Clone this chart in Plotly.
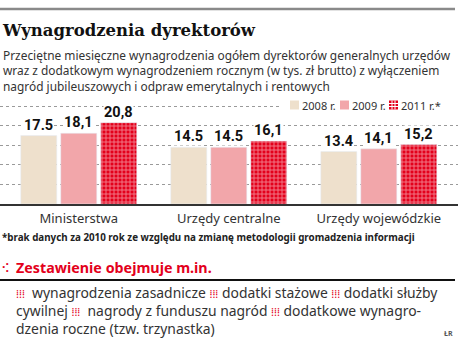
import plotly.graph_objects as go

categories = ["Ministerstwa", "Urzędy centralne", "Urzędy wojewódzkie"]
years = ["2008 r.", "2009 r.", "2011 r.*"]
values_2008 = [17.5, 14.5, 13.4]
values_2009 = [18.1, 14.5, 14.1]
values_2011 = [20.8, 16.1, 15.2]
labels_2008 = ["17.5", "14.5", "13.4"]
labels_2009 = ["18,1", "14.5", "14,1"]
labels_2011 = ["20,8", "16,1", "15,2"]

BEIGE = "#eee0cc"
PINK = "#f2a6aa"
RED = "#e3001b"
TEXT = "#333333"

W, H = 458, 340
T, B = 100, 136
PLOT_BOTTOM = H - B
PLOT_H = PLOT_BOTTOM - T


def py(ypx):
    return (PLOT_BOTTOM - ypx) / PLOT_H


def px(xpx):
    return xpx / W


fig = go.Figure()
fig.add_trace(go.Bar(x=categories, y=values_2008, name=years[0], marker_color=BEIGE, hoverinfo="skip"))
fig.add_trace(go.Bar(x=categories, y=values_2009, name=years[1], marker_color=PINK, hoverinfo="skip"))
fig.add_trace(go.Bar(x=categories, y=values_2011, name=years[2],
                     marker=dict(color=RED, pattern=dict(shape="+", fgcolor="white", bgcolor=RED,
                                                         size=4, solidity=0.4, fillmode="overlay")),
                     hoverinfo="skip"))

fig.update_layout(
    width=W, height=H,
    margin=dict(l=0, r=0, t=T, b=B),
    paper_bgcolor="white", plot_bgcolor="white",
    barmode="group", bargap=0.2, bargroupgap=0.1,
    showlegend=False,
    font=dict(family="Noto Sans", color=TEXT),
)
fig.update_xaxes(range=[-0.525, 2.528], showline=True, linecolor="#333333", linewidth=1.5,
                 ticks="", tickfont=dict(family="Noto Sans", size=13, color=TEXT),
                 ticklabelstandoff=2, fixedrange=True)
fig.update_yaxes(range=[0, 26.6], dtick=5, tick0=0, showticklabels=False,
                 showgrid=True, gridcolor="#9a9a9a", griddash="dot", gridwidth=1,
                 zeroline=False, fixedrange=True)

shapes = []
shapes.append(dict(type="line", xref="paper", yref="paper", x0=0, x1=px(455), y0=py(9), y1=py(9),
                   line=dict(color="#8a8a8a", width=2.5)))
shapes.append(dict(type="rect", xref="paper", yref="paper", x0=px(282), x1=1, y0=py(112), y1=py(98),
                   fillcolor="white", line=dict(width=0), layer="above"))
sw = 9
ly = 105
for x0, col in [(290, BEIGE), (340, PINK)]:
    shapes.append(dict(type="rect", xref="paper", yref="paper", x0=px(x0), x1=px(x0 + sw),
                       y0=py(ly + sw / 2), y1=py(ly - sw / 2), fillcolor=col, line=dict(width=0),
                       layer="above"))
x0 = 389
shapes.append(dict(type="rect", xref="paper", yref="paper", x0=px(x0), x1=px(x0 + sw),
                   y0=py(ly + sw / 2), y1=py(ly - sw / 2), fillcolor=RED, line=dict(width=0),
                   layer="above"))
for d in (3, 6):
    shapes.append(dict(type="line", xref="paper", yref="paper", x0=px(x0 + d), x1=px(x0 + d),
                       y0=py(ly + sw / 2), y1=py(ly - sw / 2), line=dict(color="white", width=1),
                       layer="above"))
    shapes.append(dict(type="line", xref="paper", yref="paper", x0=px(x0), x1=px(x0 + sw),
                       y0=py(ly - sw / 2 + d), y1=py(ly - sw / 2 + d), line=dict(color="white", width=1),
                       layer="above"))
shapes.append(dict(type="line", xref="paper", yref="paper", x0=0, x1=px(455), y0=py(280), y1=py(280),
                   line=dict(color="#111111", width=2)))
fig.update_layout(shapes=shapes)

ann = []

# value labels with white backing (interrupting gridlines, as in the reference)
for vals, labs, shift in [(values_2008, labels_2008, -40), (values_2009, labels_2009, 0),
                          (values_2011, labels_2011, 40)]:
    for c, v, t in zip(categories, vals, labs):
        ann.append(dict(xref="x", yref="y", x=c, y=v, xshift=shift, yshift=1, text=t,
                        showarrow=False, xanchor="center", yanchor="bottom",
                        bgcolor="white", borderpad=0,
                        font=dict(family="Roboto", size=14.5, color="#111111", weight="bold")))


def add_text(x, y, text, size, color=TEXT, family="Noto Sans", xanchor="left", bold=False):
    ann.append(dict(xref="paper", yref="paper", x=px(x), y=py(y), text=text, showarrow=False,
                    xanchor=xanchor, yanchor="middle", align="left",
                    font=dict(family=family, size=size, color=color, weight="bold" if bold else "normal")))


add_text(0, 31, "Wynagrodzenia dyrektorów", 16.5, color="#111111", family="DejaVu Serif", bold=True)
add_text(1, 55, "Przeciętne miesięczne wynagrodzenia ogółem dyrektorów generalnych urzędów", 11.9)
add_text(1, 70.5, "wraz z dodatkowym wynagrodzeniem rocznym (w tys. zł brutto) z wyłączeniem", 11.9)
add_text(1, 86, "nagród jubileuszowych i odpraw emerytalnych i rentowych", 11.9)

for x, t in [(300, years[0]), (350, years[1]), (399, years[2])]:
    add_text(x, 105, t, 11, color=TEXT)

add_text(0, 237, "*brak danych za 2010 rok ze względu na zmianę metodologii gromadzenia informacji", 9.8,
         color="#222222", bold=True)

add_text(0, 267, "⁖", 12, color=RED, bold=True)
add_text(14, 267, "Zestawienie obejmuje m.in.", 14.3, color=RED, bold=True)

icon = '<span style="color:%s;font-size:11px">⁞⁞⁞</span>' % RED
body = (icon + "  wynagrodzenia zasadnicze " + icon + " dodatki stażowe " + icon + " dodatki służby<br>"
        "cywilnej " + icon + "  nagrody z funduszu nagród " + icon + " dodatkowe wynagro-<br>"
        "dzenia roczne (tzw. trzynastka)")
add_text(14, 310, body, 13.9)
add_text(455, 333, "ŁR", 7, color="#555555", xanchor="right", bold=True)

fig.update_layout(annotations=ann)
fig.write_html("out.html")
